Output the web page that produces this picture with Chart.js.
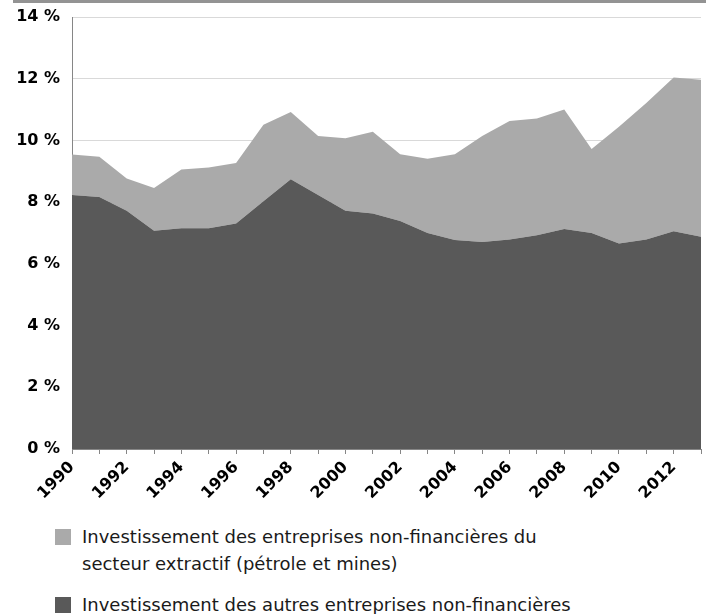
<!DOCTYPE html>
<html>
<head>
<meta charset="utf-8">
<script src="https://cdn.jsdelivr.net/npm/chart.js@4/dist/chart.umd.min.js"></script>
<style>
  html, body { margin: 0; padding: 0; background: #fff; width: 706px; height: 614px; overflow: hidden; }
  #topbar { position: absolute; left: 13px; top: 0; width: 693px; height: 3px; background: #939393; }
  #wrap { position: absolute; left: 0; top: 0; width: 706px; height: 505px; }
  #legend { position: absolute; left: 55px; top: 523px; font-family: "DejaVu Sans", sans-serif; font-size: 18px; color: #1a1a1a; }
  .item { position: relative; padding-left: 27px; line-height: 27px; white-space: nowrap; }
  .item + .item { margin-top: 14px; }
  .sw { position: absolute; left: 0; top: 6px; width: 16px; height: 16px; }
</style>
</head>
<body>
<div id="topbar"></div>
<div id="wrap"><canvas id="c" width="706" height="505"></canvas></div>
<div id="legend"></div>
<script>
// ---- data ----
const years = ['1990','1991','1992','1993','1994','1995','1996','1997','1998','1999','2000','2001',
               '2002','2003','2004','2005','2006','2007','2008','2009','2010','2011','2012','2013'];
const tickLabels = ['1990','','1992','','1994','','1996','','1998','','2000','',
                    '2002','','2004','','2006','','2008','','2010','','2012',''];
// other non-financial companies (bottom, dark)
const autresEntreprises = [8.23, 8.17, 7.72, 7.07, 7.15, 7.15, 7.31, 8.03, 8.74, 8.23, 7.72, 7.63,
                           7.39, 7.00, 6.77, 6.71, 6.79, 6.93, 7.13, 7.00, 6.66, 6.79, 7.06, 6.88];
// extractive sector (stacked on top, light)
const secteurExtractif = [1.31, 1.30, 1.05, 1.39, 1.91, 1.97, 1.96, 2.48, 2.18, 1.91, 2.35, 2.65,
                          2.16, 2.41, 2.78, 3.43, 3.84, 3.78, 3.87, 2.72, 3.78, 4.42, 4.98, 5.09];
const yTicks = [0, 2, 4, 6, 8, 10, 12, 14];
const labelExtractif = ['Investissement des entreprises non-financières du', 'secteur extractif (pétrole et mines)'];
const labelAutres = ['Investissement des autres entreprises non-financières'];

const colDark = '#595959';
const colLight = '#aaaaaa';
const tickFont = { family: 'DejaVu Sans', size: 16, weight: 'bold' };

new Chart(document.getElementById('c'), {
  type: 'line',
  data: {
    labels: years,
    datasets: [
      { label: labelAutres.join(' '), data: autresEntreprises, backgroundColor: colDark, borderWidth: 0,
        pointRadius: 0, fill: 'origin', tension: 0 },
      { label: labelExtractif.join(' '), data: secteurExtractif, backgroundColor: colLight, borderWidth: 0,
        pointRadius: 0, fill: '-1', tension: 0 }
    ]
  },
  options: {
    responsive: false,
    animation: false,
    layout: { padding: { top: 17, right: 5, left: 0, bottom: 0 } },
    plugins: { legend: { display: false }, tooltip: { enabled: false } },
    elements: { line: { borderWidth: 0 } },
    scales: {
      x: {
        type: 'category',
        offset: false,
        stacked: true,
        grid: { drawOnChartArea: false, drawTicks: true, tickLength: 5, color: '#868686' },
        border: { color: '#868686', width: 1 },
        ticks: {
          autoSkip: false, maxRotation: 45, minRotation: 45, padding: 4,
          color: '#000', font: tickFont,
          callback: (v, i) => tickLabels[i]
        },
        afterFit: s => { s.height = 505 - 449; s.paddingRight = 0; s.paddingLeft = 0; }
      },
      y: {
        stacked: true,
        min: 0, max: 14,
        afterBuildTicks: s => { s.ticks = yTicks.map(v => ({ value: v })); },
        grid: { color: '#d9d9d9', drawTicks: false, lineWidth: 1 },
        border: { color: '#868686', width: 1 },
        ticks: { color: '#000', font: tickFont, padding: 12, callback: v => v + ' %' },
        afterFit: s => { s.width = 72; s.paddingTop = 0; s.paddingBottom = 0; }
      }
    }
  }
});

// HTML legend built from series labels
const legend = document.getElementById('legend');
[[labelExtractif, colLight], [labelAutres, colDark]].forEach(([lines, col]) => {
  const it = document.createElement('div');
  it.className = 'item';
  const sw = document.createElement('span');
  sw.className = 'sw';
  sw.style.background = col;
  it.appendChild(sw);
  lines.forEach((t, k) => {
    if (k) it.appendChild(document.createElement('br'));
    it.appendChild(document.createTextNode(t));
  });
  legend.appendChild(it);
});
</script>
</body>
</html>
